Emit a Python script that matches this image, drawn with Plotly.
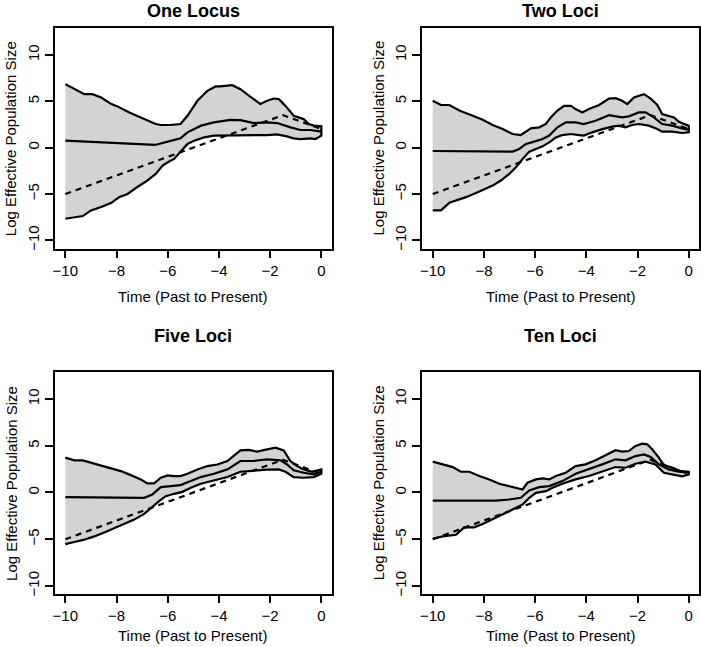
import plotly.graph_objects as go

# ---------------- data ----------------
panel_titles = ["One Locus", "Two Loci", "Five Loci", "Ten Loci"]
x_ticks = [-10, -8, -6, -4, -2, 0]
y_ticks = [-10, -5, 0, 5, 10]

true_t = [-10, -1.5, 0]
true_y = [-5, 3.5, 2.0]

# One Locus
one_up_t = [-10, -9.65, -9.26, -8.94, -8.6, -8.2, -7.96, -7.5, -7.05, -6.8, -6.47, -6.27, -5.88, -5.5, -5.23, -4.84, -4.45, -4.13, -3.94, -3.48, -3.16, -2.83, -2.64, -2.38, -2.12, -1.86, -1.66, -1.4, -1.08, -0.88, -0.69, -0.49, -0.3, 0]
one_up_y = [6.85, 6.3, 5.77, 5.77, 5.4, 4.7, 4.45, 3.8, 3.26, 2.9, 2.55, 2.44, 2.44, 2.55, 3.44, 5.05, 6.13, 6.6, 6.6, 6.74, 6.3, 5.6, 5.23, 4.7, 5.05, 5.3, 5.23, 4.5, 3.44, 3.26, 3.08, 2.55, 2.37, 2.3]
one_lo_t = [-10, -9.65, -9.32, -9.0, -8.6, -8.2, -7.9, -7.57, -7.2, -6.8, -6.47, -6.2, -6.0, -5.75, -5.5, -5.23, -4.97, -4.58, -4.2, -3.67, -3.16, -2.64, -2.12, -1.73, -1.34, -1.08, -0.82, -0.43, -0.23, 0]
one_lo_y = [-7.67, -7.56, -7.38, -6.77, -6.4, -5.95, -5.34, -5.0, -4.27, -3.55, -2.83, -1.94, -1.58, -1.22, -0.5, 0.4, 0.75, 1.1, 1.3, 1.3, 1.3, 1.36, 1.36, 1.43, 1.22, 1.0, 0.93, 1.0, 0.93, 1.3]
one_md_t = [-10, -6.5, -6.0, -5.5, -5.23, -4.7, -4.2, -3.55, -3.16, -2.64, -2.12, -1.73, -1.2, -0.82, -0.43, 0]
one_md_y = [0.75, 0.29, 0.65, 1.0, 1.65, 2.37, 2.72, 3.0, 2.97, 2.65, 2.72, 2.65, 2.19, 1.9, 1.9, 1.72]

# Two Loci
two_up_t = [-10, -9.68, -9.35, -8.96, -8.44, -8.05, -7.66, -7.27, -6.88, -6.56, -6.3, -6.17, -5.84, -5.58, -5.39, -5.13, -4.87, -4.6, -4.42, -4.16, -3.9, -3.5, -3.12, -2.86, -2.6, -2.4, -2.14, -1.95, -1.75, -1.49, -1.23, -1.04, -0.78, -0.58, -0.39, -0.2, 0]
two_up_y = [5.05, 4.6, 4.6, 4.0, 3.44, 3.0, 2.44, 2.0, 1.47, 1.36, 1.83, 2.08, 2.19, 2.55, 3.26, 4.0, 4.5, 4.5, 4.16, 3.8, 4.16, 4.6, 5.3, 5.34, 5.05, 4.7, 5.4, 5.6, 5.77, 5.3, 4.6, 3.62, 3.44, 3.26, 2.8, 2.55, 2.37]
two_lo_t = [-10, -9.68, -9.35, -9.09, -8.7, -8.31, -7.92, -7.66, -7.34, -7.01, -6.75, -6.49, -6.23, -5.97, -5.71, -5.45, -5.19, -4.94, -4.6, -4.29, -4.1, -3.77, -3.38, -2.99, -2.73, -2.47, -2.21, -1.95, -1.56, -1.23, -1.04, -0.65, -0.26, 0]
two_lo_y = [-6.77, -6.77, -5.95, -5.7, -5.34, -4.9, -4.44, -4.09, -3.55, -2.83, -2.11, -1.22, -0.43, -0.14, 0.14, 0.57, 1.1, 1.36, 1.47, 1.36, 1.3, 1.65, 2.0, 2.26, 2.37, 2.19, 2.44, 2.55, 2.37, 2.0, 1.72, 1.72, 1.58, 1.65]
two_md_t = [-10, -6.88, -6.62, -6.36, -6.04, -5.71, -5.45, -5.13, -4.8, -4.42, -4.1, -3.64, -3.12, -2.6, -2.34, -1.95, -1.69, -1.36, -1.04, -0.65, -0.26, 0]
two_md_y = [-0.36, -0.43, -0.14, 0.4, 0.65, 0.93, 1.3, 2.19, 2.72, 2.72, 2.55, 2.9, 3.5, 3.26, 3.37, 3.8, 3.8, 3.26, 2.55, 2.37, 2.08, 1.94]

# Five Loci
five_up_t = [-10, -9.65, -9.32, -9.0, -8.6, -8.2, -7.83, -7.44, -7.05, -6.8, -6.53, -6.27, -6.0, -5.75, -5.5, -5.23, -4.84, -4.45, -4.06, -3.67, -3.42, -3.16, -2.83, -2.51, -2.12, -1.79, -1.47, -1.21, -0.95, -0.69, -0.36, 0]
five_up_y = [3.73, 3.44, 3.44, 3.19, 2.94, 2.65, 2.29, 1.86, 1.4, 0.97, 0.97, 1.58, 1.83, 1.76, 1.76, 2.0, 2.47, 2.83, 3.0, 3.37, 3.9, 4.5, 4.55, 4.37, 4.62, 4.8, 4.5, 3.37, 2.83, 2.47, 2.22, 2.47]
five_lo_t = [-10, -9.65, -9.26, -8.87, -8.48, -8.09, -7.7, -7.31, -6.92, -6.6, -6.34, -6.08, -5.75, -5.43, -5.1, -4.71, -4.19, -3.67, -3.16, -2.64, -2.12, -1.66, -1.4, -1.08, -0.69, -0.3, 0]
five_lo_y = [-5.52, -5.3, -5.05, -4.7, -4.27, -3.87, -3.37, -2.9, -2.29, -1.58, -0.93, -0.39, -0.14, 0.07, 0.5, 0.93, 1.33, 1.65, 2.22, 2.29, 2.44, 2.47, 2.22, 1.65, 1.58, 1.65, 2.0]
five_md_t = [-10, -6.92, -6.6, -6.27, -5.88, -5.5, -5.1, -4.71, -4.19, -3.67, -3.16, -2.64, -2.12, -1.6, -1.34, -1.08, -0.69, -0.3, 0]
five_md_y = [-0.5, -0.57, -0.21, 0.57, 0.68, 0.79, 1.22, 1.65, 2.0, 2.47, 3.37, 3.37, 3.55, 3.44, 3.0, 2.37, 2.11, 1.94, 2.22]

# Ten Loci
ten_up_t = [-10, -9.61, -9.22, -8.9, -8.57, -8.18, -7.79, -7.4, -7.01, -6.62, -6.49, -6.3, -5.97, -5.71, -5.45, -5.19, -4.81, -4.42, -4.03, -3.64, -3.25, -2.86, -2.6, -2.34, -2.08, -1.82, -1.62, -1.43, -1.17, -0.97, -0.65, -0.32, 0]
ten_up_y = [3.3, 3.01, 2.72, 2.22, 2.22, 1.76, 1.4, 0.93, 0.68, 0.43, 0.32, 1.04, 1.4, 1.5, 1.4, 1.76, 2.11, 2.83, 3.01, 3.44, 4.01, 4.52, 4.37, 4.44, 4.98, 5.23, 5.16, 4.62, 3.73, 2.94, 2.65, 2.29, 2.22]
ten_lo_t = [-10, -9.61, -9.09, -8.77, -8.38, -8.05, -7.66, -7.27, -6.88, -6.49, -6.23, -5.97, -5.58, -5.32, -4.94, -4.42, -3.9, -3.38, -2.86, -2.47, -2.08, -1.69, -1.3, -0.97, -0.58, -0.26, 0]
ten_lo_y = [-4.95, -4.7, -4.52, -3.73, -3.73, -3.37, -2.9, -2.37, -1.83, -1.29, -0.57, -0.04, 0.14, 0.5, 0.93, 1.4, 1.76, 2.22, 2.72, 2.65, 3.08, 3.3, 3.01, 2.11, 1.86, 1.72, 1.94]
ten_md_t = [-10, -7.53, -7.01, -6.56, -6.23, -5.84, -5.45, -4.94, -4.42, -3.9, -3.38, -2.86, -2.47, -2.08, -1.75, -1.49, -1.17, -0.78, -0.39, 0]
ten_md_y = [-0.86, -0.86, -0.75, -0.57, 0.22, 0.57, 0.68, 1.22, 2.0, 2.47, 3.01, 3.55, 3.44, 3.9, 4.08, 3.8, 3.01, 2.47, 2.22, 2.11]

panels = [
    (one_up_t, one_up_y, one_lo_t, one_lo_y, one_md_t, one_md_y),
    (two_up_t, two_up_y, two_lo_t, two_lo_y, two_md_t, two_md_y),
    (five_up_t, five_up_y, five_lo_t, five_lo_y, five_md_t, five_md_y),
    (ten_up_t, ten_up_y, ten_lo_t, ten_lo_y, ten_md_t, ten_md_y),
]

# ---------------- layout geometry (pixels) ----------------
W, H = 701, 647
boxes = [  # left, right, top, bottom in px
    (53.3, 331.0, 28.3, 249.3),
    (422.3, 700.0, 28.3, 249.3),
    (53.3, 331.0, 373.3, 596.0),
    (422.3, 700.0, 373.3, 596.0),
]
title_y = [11, 11, 337, 337]
xlab_y = [297, 297, 637, 637]

FONT = "Liberation Sans, Arial, Helvetica, sans-serif"

fig = go.Figure()
layout = dict(
    width=W, height=H, margin=dict(l=0, r=0, t=0, b=0),
    paper_bgcolor="white", plot_bgcolor="white", showlegend=False,
    font=dict(family=FONT, size=15, color="black"),
    annotations=[],
)

def px(x):
    return x / W

def py(y):
    return 1 - y / H

for i, (ut, uy, lt, ly, mt, my) in enumerate(panels):
    n = "" if i == 0 else str(i + 1)
    xa, ya = "x" + n, "y" + n
    # band polygon
    fig.add_trace(go.Scatter(
        x=list(ut) + list(lt)[::-1], y=list(uy) + list(ly)[::-1],
        mode="lines", fill="toself", fillcolor="#d3d3d3",
        line=dict(color="black", width=2.2), xaxis=xa, yaxis=ya, hoverinfo="skip"))
    fig.add_trace(go.Scatter(
        x=true_t, y=true_y, mode="lines",
        line=dict(color="black", width=2.2, dash="6px,5px"), xaxis=xa, yaxis=ya))
    fig.add_trace(go.Scatter(
        x=mt, y=my, mode="lines",
        line=dict(color="black", width=2.2), xaxis=xa, yaxis=ya))

    l, r, t, b = boxes[i]
    layout["xaxis" + n] = dict(
        domain=[px(l), px(r)], range=[-10.4, 0.4], anchor=ya,
        tickvals=x_ticks, ticks="outside", ticklen=7, tickwidth=1.5, tickcolor="black",
        showline=True, linecolor="black", linewidth=2.2, mirror=True,
        showgrid=False, zeroline=False, tickfont=dict(size=15))
    layout["yaxis" + n] = dict(
        domain=[py(b), py(t)], range=[-10.88, 12.88], anchor=xa,
        tickvals=y_ticks, ticks="outside", ticklen=8, tickwidth=1.5, tickcolor="black",
        tickangle=-90,
        showline=True, linecolor="black", linewidth=2.2, mirror=True,
        showgrid=False, zeroline=False, tickfont=dict(size=15))
    cx = (l + r) / 2
    cy = (t + b) / 2
    layout["annotations"] += [
        dict(text="<b>" + panel_titles[i] + "</b>", x=px(cx), y=py(title_y[i]),
             xref="paper", yref="paper", showarrow=False, xanchor="center", yanchor="middle",
             font=dict(size=18)),
        dict(text="Time (Past to Present)", x=px(cx), y=py(xlab_y[i]),
             xref="paper", yref="paper", showarrow=False, xanchor="center", yanchor="middle",
             font=dict(size=15)),
        dict(text="Log Effective Population Size", x=px(l - 44.5), y=py(cy),
             xref="paper", yref="paper", showarrow=False, xanchor="center", yanchor="middle",
             textangle=-90, font=dict(size=15)),
    ]

fig.update_layout(**layout)
fig.write_html("out.html", config={"displayModeBar": False},
               post_script="document.body.style.margin='0';document.body.style.padding='0';")
